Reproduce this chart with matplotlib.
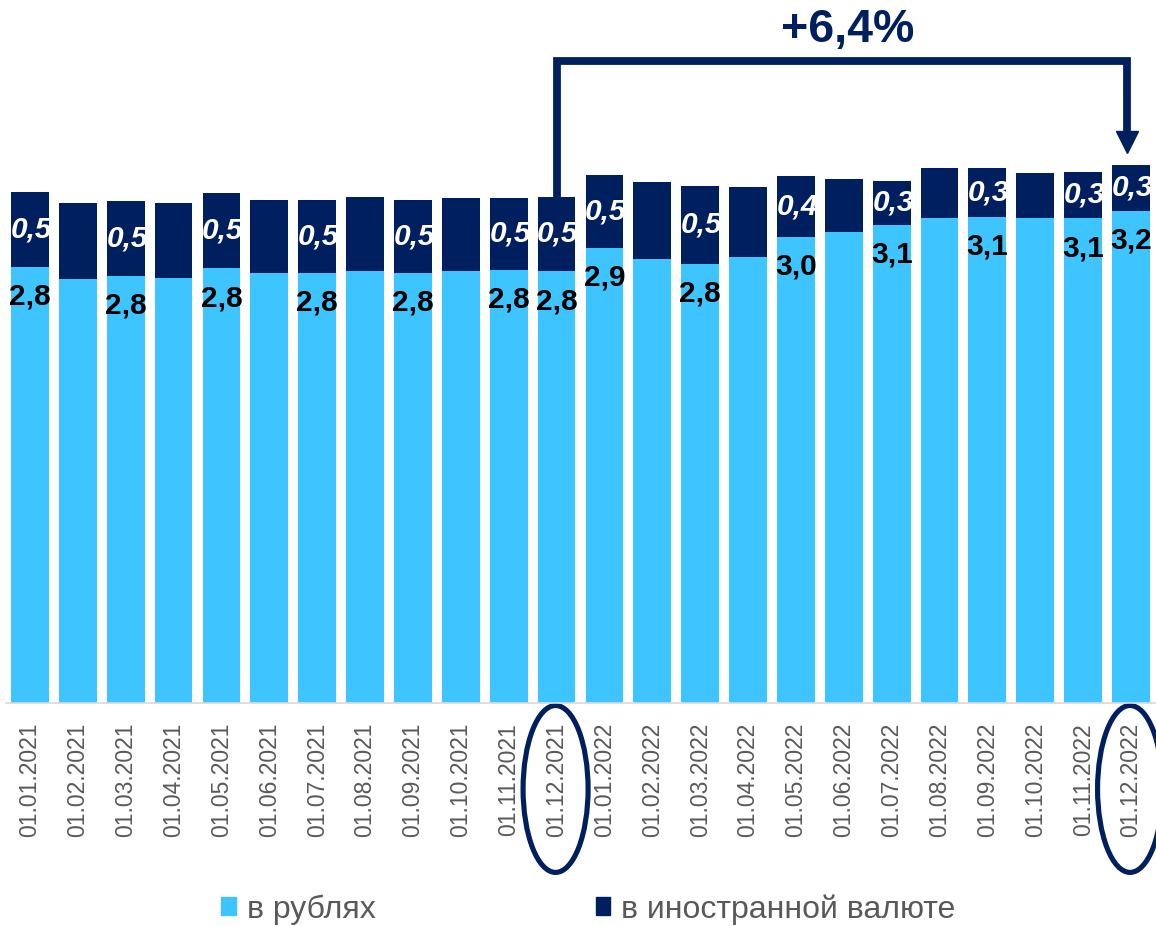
import matplotlib
matplotlib.use('Agg')
import matplotlib.pyplot as plt
from matplotlib.patches import Ellipse, Patch

plt.rcParams['font.family'] = ['Liberation Sans', 'DejaVu Sans']

# data
dates = ['01.01.2021', '01.02.2021', '01.03.2021', '01.04.2021', '01.05.2021', '01.06.2021',
         '01.07.2021', '01.08.2021', '01.09.2021', '01.10.2021', '01.11.2021', '01.12.2021',
         '01.01.2022', '01.02.2022', '01.03.2022', '01.04.2022', '01.05.2022', '01.06.2022',
         '01.07.2022', '01.08.2022', '01.09.2022', '01.10.2022', '01.11.2022', '01.12.2022']
rub = [2.80, 2.72, 2.74, 2.73, 2.79, 2.76, 2.76, 2.77, 2.76, 2.77, 2.78, 2.77,
       2.92, 2.85, 2.82, 2.86, 2.99, 3.02, 3.07, 3.11, 3.12, 3.11, 3.11, 3.16]
fx = [0.48, 0.49, 0.48, 0.48, 0.48, 0.47, 0.47, 0.48, 0.47, 0.47, 0.46, 0.48,
      0.47, 0.49, 0.50, 0.45, 0.39, 0.34, 0.28, 0.32, 0.31, 0.29, 0.30, 0.29]
rub_labels = ['2,8', '', '2,8', '', '2,8', '', '2,8', '', '2,8', '', '2,8', '2,8',
              '2,9', '', '2,8', '', '3,0', '', '3,1', '', '3,1', '', '3,1', '3,2']
fx_labels = ['0,5', '', '0,5', '', '0,5', '', '0,5', '', '0,5', '', '0,5', '0,5',
             '0,5', '', '0,5', '', '0,4', '', '0,3', '', '0,3', '', '0,3', '0,3']
growth_label = '+6,4%'
start_idx, end_idx = 11, 23
legend_names = ['в рублях', 'в иностранной валюте']

light = '#3EC4FF'
navy = '#001F5F'
gray = '#595959'

fig = plt.figure(figsize=(11.56, 9.26), dpi=100)
ax = fig.add_axes([0.0052, 0.2403, 0.9939, 0.7597])

x = list(range(len(dates)))
b1 = ax.bar(x, rub, width=0.79, color=light)
b2 = ax.bar(x, fx, width=0.79, bottom=rub, color=navy)

for i in x:
    if rub_labels[i]:
        ax.annotate(rub_labels[i], (i, rub[i]), xytext=(0, -21.5), textcoords='offset points',
                    ha='center', va='center', fontsize=21.5, fontweight='bold', color='black')
    if fx_labels[i]:
        t = ax.text(i + 0.03, rub[i] + fx[i] / 2, fx_labels[i], ha='center', va='center',
                    fontsize=21.5, fontweight='bold', style='italic', color='white')
        t.set_clip_path(b2[i])

ax.set_xlim(-0.5, len(dates) - 0.5)
ax.set_ylim(0, 4.51)
ax.set_xticks(x)
ax.set_xticklabels(dates, rotation=90, fontsize=16.5, color=gray)
ax.tick_params(axis='x', length=0, pad=14)
ax.set_yticks([])
for s in ['top', 'right', 'left']:
    ax.spines[s].set_visible(False)
ax.spines['bottom'].set_color('#D9D9D9')
ax.spines['bottom'].set_linewidth(1.2)

# bracket with arrow
top_y = 4.119
xr = end_idx - 0.08
ax.plot([start_idx, start_idx, xr, xr],
        [rub[start_idx] + fx[start_idx], top_y, top_y, 3.66],
        color=navy, lw=5.6, solid_joinstyle='miter', solid_capstyle='butt', clip_on=False)
ax.plot(xr, 3.60, marker='v', ms=16.5, color=navy, clip_on=False)
ax.text(17.08, 4.32, growth_label, ha='center', va='center', fontsize=33.5,
        fontweight='bold', color=navy, clip_on=False)

# highlight ellipses
for i in [start_idx, end_idx]:
    ax.add_patch(Ellipse((i - 0.02, -0.548), 1.358, 1.07, fill=False, ec=navy,
                         lw=3.7, clip_on=False))

handles = [Patch(color=light), Patch(color=navy)]
leg = fig.legend(handles, legend_names, loc='center', bbox_to_anchor=(0.509, 0.018),
                 ncol=2, frameon=False, fontsize=23, handlelength=0.45, handleheight=0.5,
                 handletextpad=0.34, columnspacing=6.9, borderpad=0)
for t in leg.get_texts():
    t.set_color(gray)

fig.savefig('out.png', dpi=100)
